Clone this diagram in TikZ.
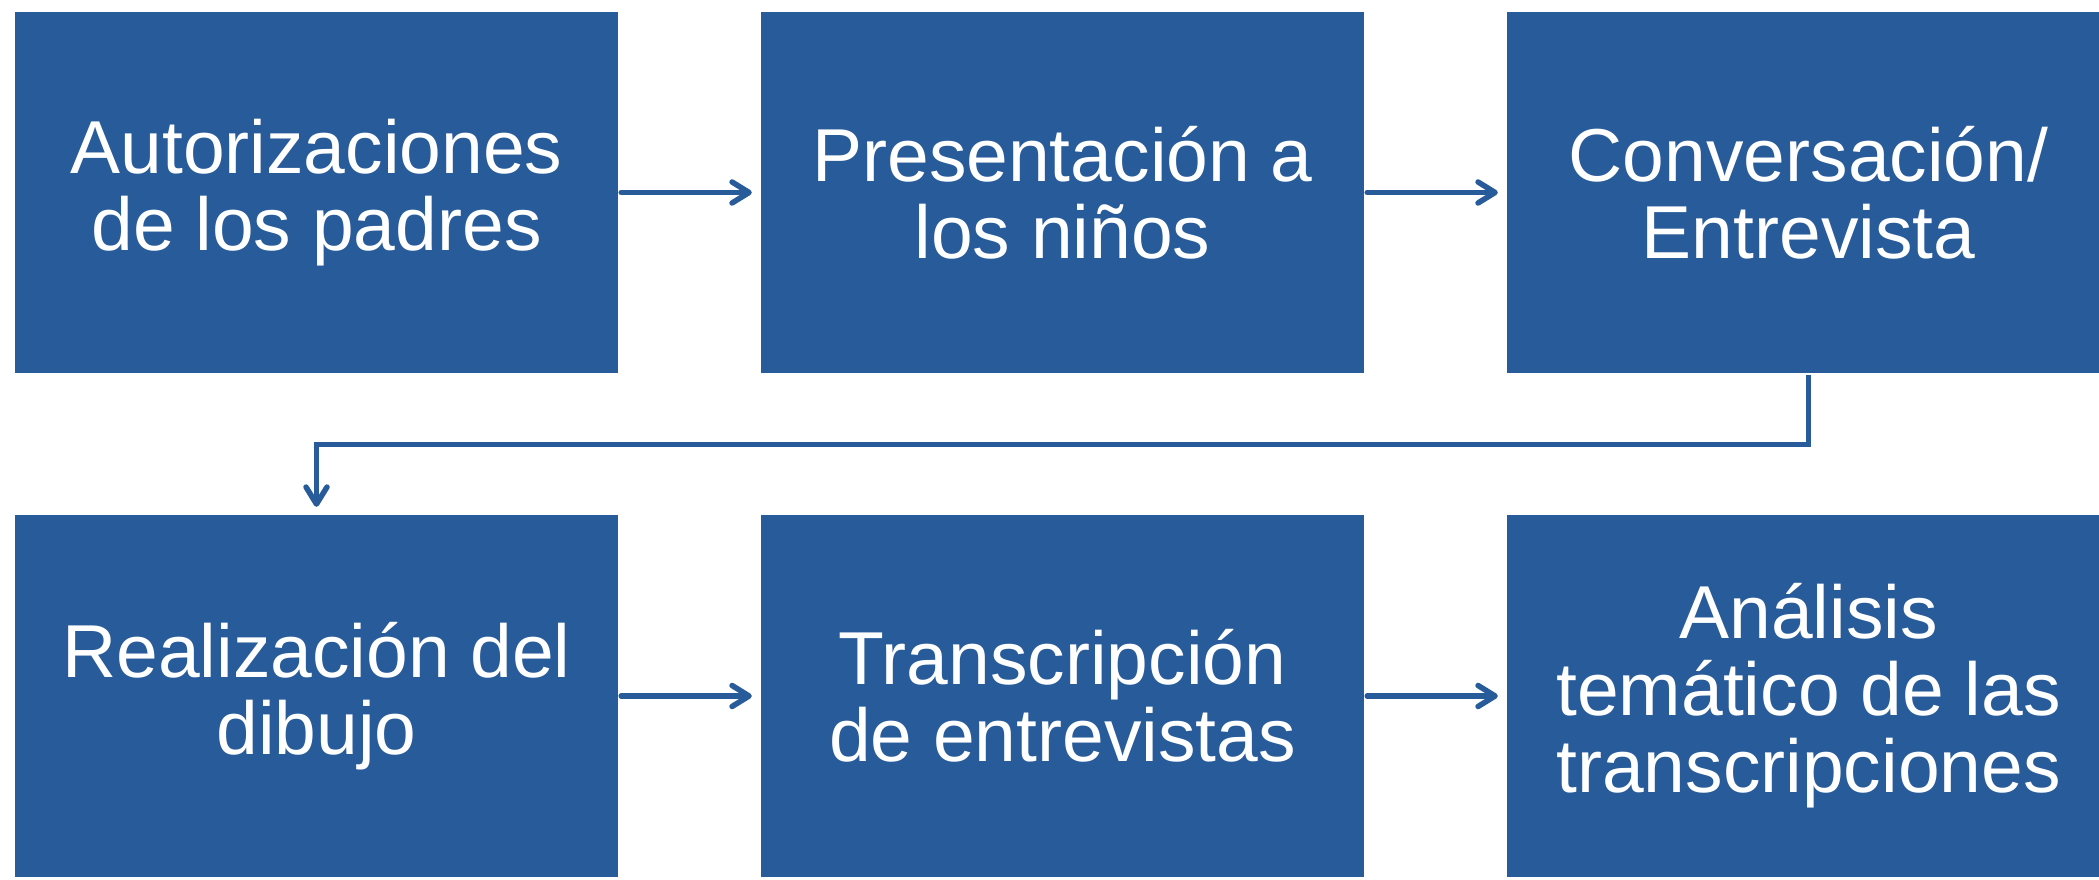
\documentclass[tikz,border=0pt]{standalone}
\usepackage{fontspec}
\setmainfont{Liberation Sans}
\usetikzlibrary{arrows.meta}
\definecolor{boxblue}{RGB}{40,91,154}
\begin{document}
\begin{tikzpicture}[x=1pt,y=1pt,
  stepbox/.style={rectangle, fill=boxblue, draw=none, minimum width=603pt, minimum height=361pt,
    inner sep=0pt, text=white, align=center, font=\fontsize{75}{77}\selectfont},
  arr/.style={draw=boxblue, line width=5.5pt, line cap=round, line join=round,
    -{Straight Barb[length=17pt,width=21pt,line cap=round,line join=round]}}]
\useasboundingbox (0,0) rectangle (2099,879);
\clip (0,0) rectangle (2099,879);
\node[stepbox] (b1) at (316.5,686.5) {Autorizaciones\\de los padres};
\node[stepbox] (b2) at (1062.5,686.5) {Presentación a\\los niños};
\node[stepbox] (b3) at (1808.5,686.5) {Conversación/\\Entrevista};
\node[stepbox, minimum height=362pt] (b4) at (316.5,183) {Realización del\\dibujo};
\node[stepbox, minimum height=362pt] (b5) at (1062.5,183) {Transcripción\\de entrevistas};
\node[stepbox, minimum height=362pt] (b6) at (1808.5,183) {Análisis\\temático de las\\transcripciones};
\coordinate (bend) at (1808.5,434.5);
\draw[arr, shorten <=3pt, shorten >=9pt] (b1) -- (b2);
\draw[arr, shorten <=3pt, shorten >=9pt] (b2) -- (b3);
\draw[arr, shorten <=3pt, shorten >=9pt] (b4) -- (b5);
\draw[arr, shorten <=3pt, shorten >=9pt] (b5) -- (b6);
\draw[arr, line cap=butt, line join=miter, shorten <=2pt, shorten >=8pt] (b3.south) -- (bend) -| (b4.north);
\end{tikzpicture}
\end{document}
